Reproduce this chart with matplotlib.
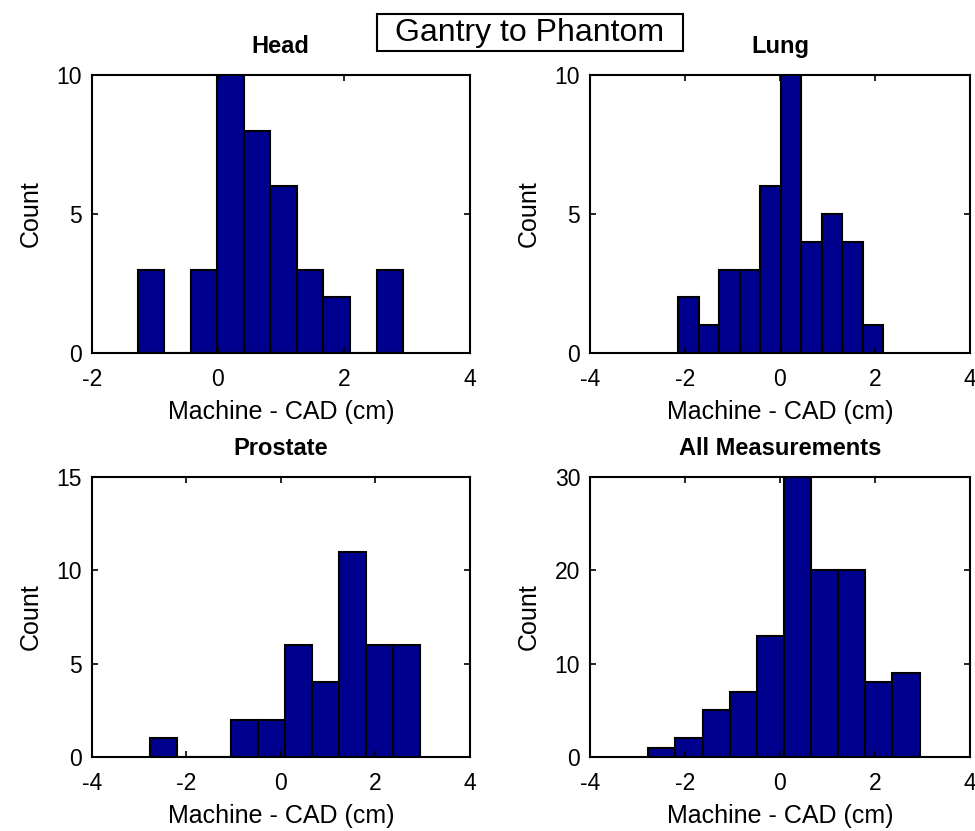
import numpy as np
import matplotlib
matplotlib.use("Agg")
import matplotlib.pyplot as plt
from matplotlib.patches import Rectangle

plt.rcParams['font.family'] = ['Liberation Sans', 'DejaVu Sans']
plt.rcParams['axes.unicode_minus'] = False

# Data (MATLAB hist, 10 bins each)
panel_titles = ["Head", "Lung", "Prostate", "All Measurements"]
head_range = (-1.27, 2.94)
head_counts = [3, 0, 3, 10, 8, 6, 3, 2, 0, 3]
lung_range = (-2.14, 2.175)
lung_counts = [2, 1, 3, 3, 6, 10, 4, 5, 4, 1]
prostate_range = (-2.77, 2.94)
prostate_counts = [1, 0, 0, 2, 2, 6, 4, 11, 6, 6]
all_range = (-2.77, 2.935)
all_counts = [1, 2, 5, 7, 13, 30, 20, 20, 8, 9]

xlims = [(-2, 4), (-4, 4), (-4, 4), (-4, 4)]
xticks = [[-2, 0, 2, 4], [-4, -2, 0, 2, 4], [-4, -2, 0, 2, 4], [-4, -2, 0, 2, 4]]
ylims = [(0, 10), (0, 10), (0, 15), (0, 30)]
yticks = [[0, 5, 10], [0, 5, 10], [0, 5, 10, 15], [0, 10, 20, 30]]

suptitle = "Gantry to Phantom"
xlabel = "Machine - CAD (cm)"
ylabel = "Count"

bar_color = (0, 0, 0.5625)

W, H = 975, 831
fig = plt.figure(figsize=(W / 100, H / 100), dpi=100)
positions = [
    [0.094, 0.5752, 0.388, 0.3345],
    [0.605, 0.5752, 0.390, 0.3345],
    [0.094, 0.0890, 0.388, 0.3370],
    [0.605, 0.0890, 0.390, 0.3370],
]
ranges = [head_range, lung_range, prostate_range, all_range]
counts_list = [head_counts, lung_counts, prostate_counts, all_counts]

for i in range(4):
    ax = fig.add_axes(positions[i])
    lo, hi = ranges[i]
    edges = np.linspace(lo, hi, len(counts_list[i]) + 1)
    centers = 0.5 * (edges[:-1] + edges[1:])
    ax.hist(centers, bins=edges, weights=counts_list[i], color=bar_color,
            edgecolor='black', linewidth=1.5)
    ax.set_xlim(*xlims[i])
    ax.set_ylim(*ylims[i])
    ax.set_xticks(xticks[i])
    ax.set_yticks(yticks[i])
    ax.tick_params(axis='x', pad=11)
    ax.tick_params(axis='y', pad=7)
    ax.tick_params(direction='in', top=True, right=True, length=4,
                   labelsize=16.5, width=1.2)
    for s in ax.spines.values():
        s.set_linewidth(1.5)
    ax.set_title(panel_titles[i], fontsize=17, fontweight='bold', pad=16)
    ax.set_xlabel(xlabel, fontsize=18, labelpad=6)
    ax.set_ylabel(ylabel, fontsize=18, labelpad=10)

# Title with box
box_x0, box_y0, box_x1, box_y1 = 377, 14, 683, 51
fig.patches.append(Rectangle((box_x0 / W, 1 - box_y1 / H),
                             (box_x1 - box_x0) / W, (box_y1 - box_y0) / H,
                             transform=fig.transFigure, facecolor='white',
                             edgecolor='black', linewidth=1.5))
fig.text((box_x0 + box_x1) / 2 / W, 1 - (box_y0 + box_y1) / 2 / H, suptitle,
         ha='center', va='center', fontsize=23)

fig.savefig("out.png", dpi=100)
